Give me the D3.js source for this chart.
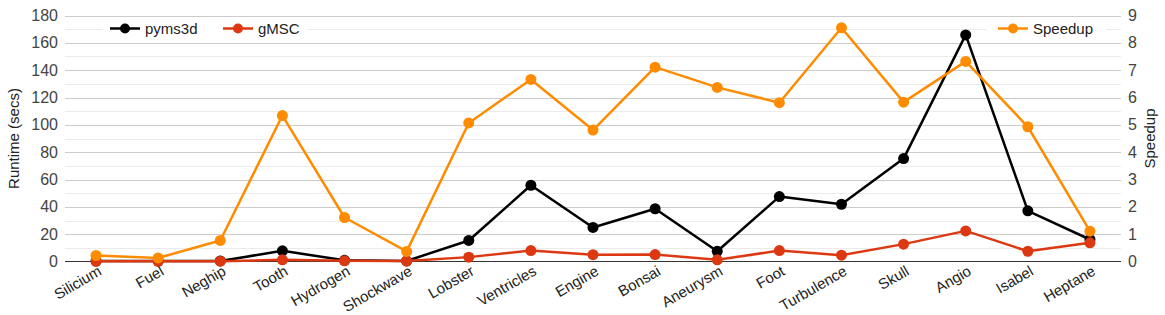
<!DOCTYPE html>
<html>
<head>
<meta charset="utf-8">
<script src="https://cdn.jsdelivr.net/npm/d3@7/dist/d3.min.js"></script>
<style>
    body { margin: 0; background: #fff; }
    svg { display: block; font-family: Arial, "Liberation Sans", sans-serif; }
</style>
</head>
<body>
<svg id="chart" width="1165" height="315"></svg>
<script>
// datasets
var categories = ['Silicium', 'Fuel', 'Neghip', 'Tooth', 'Hydrogen', 'Shockwave', 'Lobster', 'Ventricles',
    'Engine', 'Bonsai', 'Aneurysm', 'Foot', 'Turbulence', 'Skull', 'Angio', 'Isabel', 'Heptane'];
var pyms3d = [0.3, 0.3, 0.4, 7.8, 0.9, 0.4, 15.4, 55.8, 24.9, 38.6, 7.5, 47.5, 41.9, 75.3, 165.8, 37.1, 16.1];
var gmsc = [0.1, 0.1, 0.2, 1.2, 0.5, 0.3, 3.2, 8.0, 5.0, 5.1, 1.2, 8.0, 4.6, 12.7, 22.4, 7.5, 13.7];
var speedup = [0.22, 0.13, 0.77, 5.34, 1.61, 0.37, 5.07, 6.66, 4.81, 7.11, 6.37, 5.81, 8.55, 5.83, 7.32, 4.93, 1.11];
var runtimeTicks = [0, 20, 40, 60, 80, 100, 120, 140, 160, 180];
var speedupTicks = [0, 1, 2, 3, 4, 5, 6, 7, 8, 9];

(function () {
    var svg = d3.select('#chart');
    var left = 65, right = 1121, top = 15.5, bottom = 261.5;

    var x = d3.scalePoint().domain(categories).range([left, right]).padding(0.5);
    var yLeft = d3.scaleLinear().domain([0, 180]).range([bottom, top]);
    var yRight = d3.scaleLinear().domain([0, 9]).range([bottom, top]);

    /**
     * gridlines: minor every 10 secs, major every 20
     */
    var grid = svg.append('g');
    grid.selectAll('line.minor')
        .data(d3.range(10, 180, 20))
        .enter().append('line')
        .attr('x1', left).attr('x2', right)
        .attr('y1', function (d) { return Math.round(yLeft(d)) + 0.5; })
        .attr('y2', function (d) { return Math.round(yLeft(d)) + 0.5; })
        .attr('stroke', '#ebebeb');
    grid.selectAll('line.major')
        .data(runtimeTicks.slice(1))
        .enter().append('line')
        .attr('x1', left).attr('x2', right)
        .attr('y1', function (d) { return Math.round(yLeft(d)) + 0.5; })
        .attr('y2', function (d) { return Math.round(yLeft(d)) + 0.5; })
        .attr('stroke', '#cccccc');

    // left axis labels
    var leftAxis = svg.append('g')
        .attr('transform', 'translate(' + left + ',0)')
        .call(d3.axisLeft(yLeft).tickValues(runtimeTicks).tickSize(0).tickPadding(7));
    leftAxis.select('.domain').remove();
    leftAxis.selectAll('text').attr('font-size', 16).attr('fill', '#444').attr('font-family', null);

    var rightAxis = svg.append('g')
        .attr('transform', 'translate(' + right + ',0)')
        .call(d3.axisRight(yRight).tickValues(speedupTicks).tickSize(0).tickPadding(7));
    rightAxis.select('.domain').remove();
    rightAxis.selectAll('text').attr('font-size', 16).attr('fill', '#444').attr('font-family', null);

    // category labels, slanted
    svg.append('g').selectAll('text')
        .data(categories)
        .enter().append('text')
        .attr('transform', function (d) { return 'translate(' + (x(d) + 4) + ',' + (bottom + 8) + ') rotate(-30)'; })
        .attr('text-anchor', 'end')
        .attr('dy', '0.35em')
        .attr('font-size', 15)
        .attr('fill', '#222')
        .text(function (d) { return d; });

    // baseline
    svg.append('line')
        .attr('x1', left).attr('x2', right)
        .attr('y1', bottom).attr('y2', bottom)
        .attr('stroke', '#333');

    // axis titles
    svg.append('text')
        .attr('transform', 'translate(19,' + ((top + bottom) / 2) + ') rotate(-90)')
        .attr('text-anchor', 'middle')
        .attr('font-size', 15)
        .attr('fill', '#222')
        .text('Runtime (secs)');
    svg.append('text')
        .attr('transform', 'translate(1155,' + ((top + bottom) / 2) + ') rotate(-90)')
        .attr('text-anchor', 'middle')
        .attr('font-size', 15)
        .attr('fill', '#222')
        .text('Speedup');

    var series = [
        {values: pyms3d, y: yLeft, color: '#000000'},
        {values: gmsc, y: yLeft, color: '#dc3912'},
        {values: speedup, y: yRight, color: '#ff8c00'}
    ];

    series.forEach(function (s) {
        var line = d3.line()
            .x(function (d, i) { return x(categories[i]); })
            .y(function (d) { return s.y(d); });
        var g = svg.append('g');
        g.append('path')
            .attr('d', line(s.values))
            .attr('fill', 'none')
            .attr('stroke', s.color)
            .attr('stroke-width', 2.5)
            .attr('stroke-linejoin', 'round');
        g.selectAll('circle')
            .data(s.values)
            .enter().append('circle')
            .attr('cx', function (d, i) { return x(categories[i]); })
            .attr('cy', function (d) { return s.y(d); })
            .attr('r', 5.5)
            .attr('fill', s.color);
    });

    /**
     * legend entries, each on a white box over the grid
     */
    var legends = [
        {x: 103, w: 205, items: [{label: 'pyms3d', color: '#000000', at: 110}, {label: 'gMSC', color: '#dc3912', at: 223}]},
        {x: 986, w: 120, items: [{label: 'Speedup', color: '#ff8c00', at: 998}]}
    ];
    var ly = 28.5;
    legends.forEach(function (lg) {
        svg.append('rect')
            .attr('x', lg.x).attr('y', ly - 10)
            .attr('width', lg.w).attr('height', 20)
            .attr('fill', '#fff');
        lg.items.forEach(function (it) {
            svg.append('line')
                .attr('x1', it.at).attr('x2', it.at + 30)
                .attr('y1', ly).attr('y2', ly)
                .attr('stroke', it.color).attr('stroke-width', 2.5);
            svg.append('circle')
                .attr('cx', it.at + 15).attr('cy', ly).attr('r', 5)
                .attr('fill', it.color);
            svg.append('text')
                .attr('x', it.at + 35).attr('y', ly)
                .attr('dy', '0.35em')
                .attr('font-size', 15)
                .attr('fill', '#222')
                .text(it.label);
        });
    });
})();
</script>
</body>
</html>
